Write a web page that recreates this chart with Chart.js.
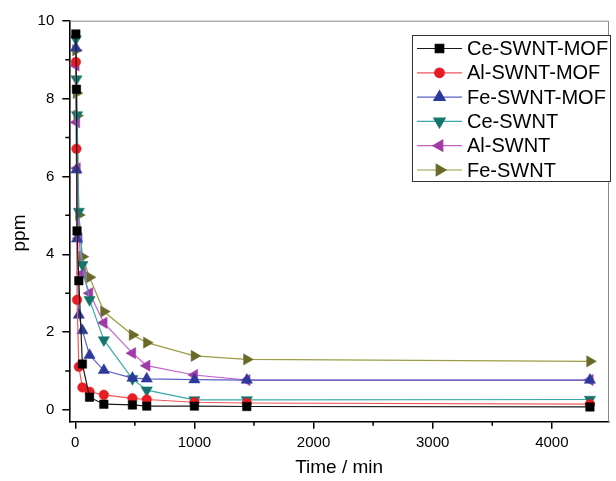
<!DOCTYPE html>
<html>
<head>
<meta charset="utf-8">
<script src="https://cdn.jsdelivr.net/npm/chart.js@4.4.1/dist/chart.umd.min.js"></script>
<style>
  html, body { margin: 0; padding: 0; background: #fff; }
  canvas { display: block; }
</style>
</head>
<body>
<canvas id="c" width="616" height="481"></canvas>
<script>
// Sampling times (min)
const timeMin = [5, 10, 15, 30, 60, 120, 240, 480, 600, 1000, 1440, 4320];

// Residual concentration (ppm) for each adsorbent
const ceSwntMof = [9.66, 8.24, 4.60, 3.32, 1.18, 0.33, 0.15, 0.13, 0.10, 0.10, 0.09, 0.08];
const alSwntMof = [8.94, 6.71, 2.83, 1.11, 0.58, 0.47, 0.39, 0.30, 0.27, 0.20, 0.18, 0.15];
const feSwntMof = [9.30, 6.17, 4.40, 2.44, 2.04, 1.41, 1.02, 0.82, 0.80, 0.78, 0.77, 0.77];
const ceSwnt    = [9.53, 8.50, 7.58, 5.10, 3.73, 2.83, 1.80, 0.80, 0.51, 0.26, 0.26, 0.27];
const alSwnt    = [8.85, 7.39, 6.21, 4.41, 3.51, 3.00, 2.24, 1.46, 1.14, 0.90, 0.77, 0.77];
const feSwnt    = [9.24, 8.14, 7.56, 5.01, 3.94, 3.41, 2.53, 1.93, 1.73, 1.39, 1.30, 1.25];

const seriesNames = ['Ce-SWNT-MOF', 'Al-SWNT-MOF', 'Fe-SWNT-MOF', 'Ce-SWNT', 'Al-SWNT', 'Fe-SWNT'];

// Axis ticks
const xMajorTicks = [0, 1000, 2000, 3000, 4000];
const xMinorTicks = [500, 1500, 2500, 3500];
const yMajorTicks = [0, 2, 4, 6, 8, 10];
const yMinorTicks = [1, 3, 5, 7, 9];

const FONT = '"Liberation Sans", Arial, sans-serif';

const styles = [
  { marker: '#000000', line: '#1a1a1a', pointStyle: 'rect',     rotation: 0,   radius: 6.0 },
  { marker: '#e81c22', line: '#f05858', pointStyle: 'circle',   rotation: 0,   radius: 4.8 },
  { marker: '#2c3a9c', line: '#5a62c4', pointStyle: 'triangle', rotation: 0,   radius: 6.5 },
  { marker: '#12746a', line: '#3aaaa8', pointStyle: 'triangle', rotation: 180, radius: 6.5 },
  { marker: '#a03aa8', line: '#c462cc', pointStyle: 'triangle', rotation: -90, radius: 6.5 },
  { marker: '#6a6a28', line: '#9c9c48', pointStyle: 'triangle', rotation: 90,  radius: 6.5 }
];

const seriesValues = [ceSwntMof, alSwntMof, feSwntMof, ceSwnt, alSwnt, feSwnt];

const datasets = seriesValues.map((vals, i) => ({
  label: seriesNames[i],
  data: timeMin.map((t, k) => ({ x: t, y: vals[k] })),
  borderColor: styles[i].line,
  borderWidth: 1.2,
  backgroundColor: styles[i].marker,
  pointBackgroundColor: styles[i].marker,
  pointBorderColor: styles[i].marker,
  pointBorderWidth: 0.5,
  pointStyle: styles[i].pointStyle,
  pointRotation: styles[i].rotation,
  pointRadius: styles[i].radius,
  pointHoverRadius: styles[i].radius,
  tension: 0,
  fill: false
}));

// Minor ticks, top/right frame, axis titles and the boxed legend
const decorations = {
  id: 'decorations',
  afterDraw(chart) {
    const ctx = chart.ctx;
    const area = chart.chartArea;
    const xs = chart.scales.x, ys = chart.scales.y;
    ctx.save();

    // top and right frame
    ctx.strokeStyle = '#8a8a8a';
    ctx.lineWidth = 1;
    ctx.beginPath();
    ctx.moveTo(area.left, area.top + 0.5);
    ctx.lineTo(area.right - 0.5, area.top + 0.5);
    ctx.lineTo(area.right - 0.5, area.bottom);
    ctx.stroke();

    // minor ticks
    ctx.strokeStyle = '#000';
    ctx.lineWidth = 1.5;
    ctx.beginPath();
    yMinorTicks.forEach(v => {
      const py = ys.getPixelForValue(v);
      ctx.moveTo(area.left - 4, py);
      ctx.lineTo(area.left, py);
    });
    xMinorTicks.forEach(v => {
      const px = xs.getPixelForValue(v);
      ctx.moveTo(px, area.bottom);
      ctx.lineTo(px, area.bottom + 4);
    });
    ctx.stroke();

    // axis titles
    ctx.fillStyle = '#000';
    ctx.font = '19px ' + FONT;
    ctx.textAlign = 'center';
    ctx.textBaseline = 'alphabetic';
    ctx.fillText('Time / min', (area.left + area.right) / 2, 473);
    ctx.save();
    ctx.translate(25, 233);
    ctx.rotate(-Math.PI / 2);
    ctx.fillText('ppm', 0, 0);
    ctx.restore();

    // legend
    const bx = 412.5, by = 35.5, bw = 198, bh = 146;
    ctx.fillStyle = '#fff';
    ctx.fillRect(bx, by, bw, bh);
    ctx.strokeStyle = '#333';
    ctx.lineWidth = 1;
    ctx.strokeRect(bx, by, bw, bh);
    ctx.font = '20px ' + FONT;
    ctx.textAlign = 'left';
    ctx.textBaseline = 'middle';
    chart.data.datasets.forEach((ds, i) => {
      const y = 48.5 + i * 24.3;
      ctx.strokeStyle = ds.borderColor;
      ctx.lineWidth = 1.2;
      ctx.beginPath();
      ctx.moveTo(417, y);
      ctx.lineTo(462, y);
      ctx.stroke();
      ctx.fillStyle = ds.pointBackgroundColor;
      ctx.strokeStyle = ds.pointBorderColor;
      Chart.helpers.drawPoint(ctx, {
        pointStyle: ds.pointStyle,
        rotation: ds.pointRotation,
        radius: ds.pointRadius,
        borderWidth: ds.pointBorderWidth
      }, 439.5, y);
      ctx.fillStyle = '#000';
      ctx.fillText(ds.label, 467, y + 1);
    });
    ctx.restore();
  }
};

new Chart(document.getElementById('c'), {
  type: 'line',
  data: { datasets },
  options: {
    responsive: false,
    devicePixelRatio: 1,
    animation: false,
    events: [],
    layout: { padding: { top: 20.7, right: 2, left: 0, bottom: 0 } },
    plugins: { legend: { display: false }, tooltip: { enabled: false } },
    scales: {
      x: {
        type: 'linear',
        min: -50,
        max: 4480,
        afterFit(scale) { scale.height = 59.3; },
        afterBuildTicks(scale) { scale.ticks = xMajorTicks.map(v => ({ value: v })); },
        grid: { drawOnChartArea: false, drawTicks: true, tickLength: 7, color: '#000', lineWidth: 1.5 },
        border: { display: true, color: '#000', width: 1.6 },
        ticks: { font: { family: FONT, size: 15 }, color: '#000', padding: 5, maxRotation: 0,
                 callback: v => String(v) }
      },
      y: {
        type: 'linear',
        min: -0.3,
        max: 10,
        afterFit(scale) { scale.width = 69.3; },
        afterBuildTicks(scale) { scale.ticks = yMajorTicks.map(v => ({ value: v })); },
        grid: { drawOnChartArea: false, drawTicks: true, tickLength: 7, color: '#000', lineWidth: 1.5 },
        border: { display: true, color: '#000', width: 1.6 },
        ticks: { font: { family: FONT, size: 15 }, color: '#000', padding: 8,
                 callback: v => String(v) }
      }
    }
  },
  plugins: [decorations]
});
</script>
</body>
</html>
